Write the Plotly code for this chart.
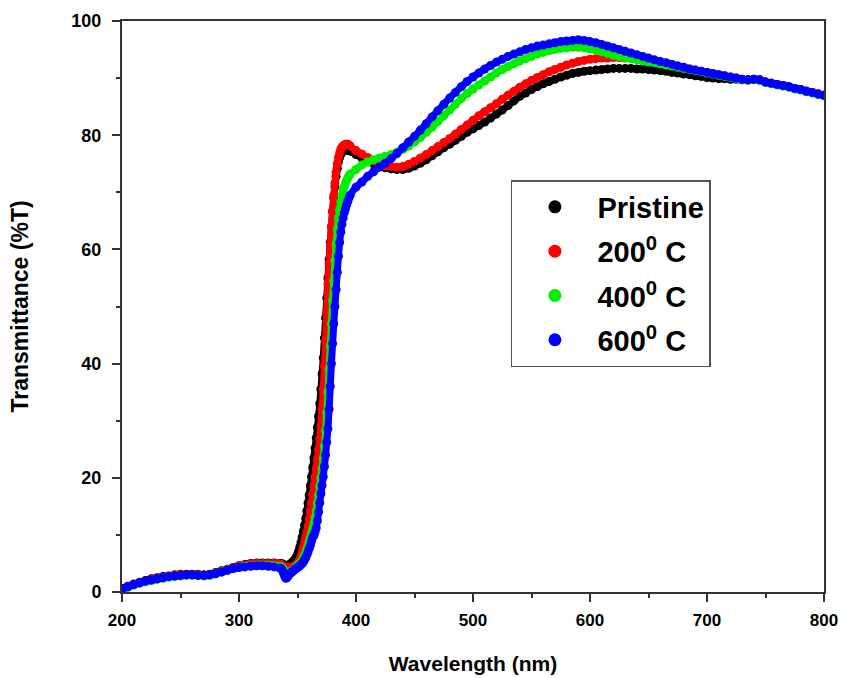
import plotly.graph_objects as go

# Wavelength grid (nm): coarse, fine through the absorption edge, coarse
wl_low = [200, 205, 210, 215, 220, 225, 230, 235, 240, 245, 250, 255, 260, 265,
          270, 275, 280, 285, 290, 295, 300, 305, 310, 315, 320, 325, 330, 335]
wl_edge = list(range(336, 396))
wl_high = list(range(400, 801, 5))
wavelength = wl_low + wl_edge + wl_high

pristine_low = [0.6, 1.0, 1.4, 1.7, 2.0, 2.3, 2.5, 2.7, 2.8, 3.0, 3.1, 3.1, 3.1, 3.1,
                3.0, 3.1, 3.4, 3.7, 4.0, 4.3, 4.6, 4.8, 5.0, 5.1, 5.1, 5.1, 5.1, 5.0]
pristine_edge = [5.0, 4.9, 4.8, 4.7, 4.6, 4.6, 4.7, 4.8, 4.9, 5.1,
                 5.3, 5.5, 5.8, 6.1, 6.6, 7.2, 7.9, 8.7, 9.6, 10.6,
                 11.7, 12.9, 14.2, 15.6, 17.0, 18.6, 20.2, 21.8, 23.5, 25.2,
                 27.0, 28.8, 30.8, 33.0, 35.5, 38.2, 41.0, 44.5, 48.0, 51.5,
                 55.0, 58.2, 61.2, 64.0, 66.6, 69.0, 71.0, 72.8, 74.2, 75.3,
                 76.1, 76.6, 77.0, 77.2, 77.3, 77.4, 77.4, 77.4, 77.3, 77.2]
pristine_high = [76.6, 76.0, 75.5, 75.0, 74.6, 74.3, 74.1, 74.0, 74.0, 74.2,
                 74.6, 75.1, 75.7, 76.4, 77.1, 77.8, 78.4, 79.1, 79.8, 80.5,
                 81.1, 81.7, 82.3, 83.0, 83.7, 84.4, 85.2, 86.0, 86.8, 87.4,
                 88.0, 88.5, 89.0, 89.4, 89.8, 90.2, 90.5, 90.8, 91.0, 91.2,
                 91.3, 91.4, 91.5, 91.6, 91.7, 91.7, 91.7, 91.7, 91.6, 91.6,
                 91.5, 91.4, 91.3, 91.2, 91.0, 90.9, 90.7, 90.6, 90.4, 90.3,
                 90.1, 90.0, 89.9, 89.9, 89.8, 89.8, 89.7, 89.7, 89.8, 89.7,
                 89.3, 89.1, 88.9, 88.7, 88.5, 88.2, 88.0, 87.7, 87.5, 87.2, 87.0]

c200_low = [0.5, 0.9, 1.3, 1.6, 1.9, 2.2, 2.4, 2.6, 2.7, 2.9, 3.0, 3.0, 3.0, 3.0,
            2.9, 3.0, 3.3, 3.6, 3.9, 4.2, 4.5, 4.7, 4.9, 5.0, 5.0, 5.0, 5.0, 4.9]
c200_edge = [4.8, 4.7, 4.5, 4.3, 4.2, 4.2, 4.2, 4.3, 4.3, 4.4,
             4.4, 4.5, 4.6, 4.8, 5.0, 5.3, 5.7, 6.3, 7.0, 7.8,
             8.7, 9.6, 10.5, 11.5, 12.8, 14.2, 15.6, 17.1, 18.6, 20.1,
             21.6, 23.3, 25.0, 26.8, 29.0, 32.0, 35.5, 39.5, 44.0, 49.0,
             54.0, 57.5, 60.8, 64.0, 66.8, 69.4, 71.6, 73.5, 75.0, 76.1,
             76.9, 77.5, 77.9, 78.1, 78.3, 78.4, 78.4, 78.4, 78.3, 78.1]
c200_high = [77.3, 76.7, 76.1, 75.5, 75.0, 74.7, 74.5, 74.4, 74.5, 74.9,
             75.4, 76.0, 76.6, 77.3, 78.0, 78.7, 79.4, 80.2, 81.0, 81.8,
             82.6, 83.4, 84.1, 84.8, 85.5, 86.3, 87.0, 87.7, 88.4, 89.0,
             89.6, 90.1, 90.6, 91.1, 91.5, 91.9, 92.3, 92.6, 92.9, 93.1,
             93.3, 93.4, 93.5, 93.5, 93.6, 93.6, 93.5, 93.5, 93.4, 93.3,
             93.1, 93.0, 92.8, 92.6, 92.4, 92.1, 91.9, 91.6, 91.4, 91.2,
             91.0, 90.8, 90.6, 90.4, 90.2, 90.0, 89.8, 89.7, 89.8, 89.7,
             89.3, 89.1, 88.9, 88.7, 88.5, 88.2, 88.0, 87.7, 87.5, 87.2, 87.0]

c400_low = [0.4, 0.8, 1.2, 1.5, 1.8, 2.0, 2.2, 2.4, 2.6, 2.7, 2.8, 2.9, 2.9, 2.9,
            2.8, 2.9, 3.2, 3.5, 3.8, 4.1, 4.3, 4.5, 4.6, 4.7, 4.7, 4.7, 4.6, 4.5]
c400_edge = [4.4, 4.2, 3.9, 3.5, 3.2, 3.2, 3.3, 3.4, 3.5, 3.7,
             3.8, 4.0, 4.2, 4.4, 4.6, 4.8, 5.0, 5.3, 5.6, 6.0,
             6.4, 6.9, 7.5, 8.1, 8.8, 9.5, 10.3, 11.1, 12.0, 13.0,
             14.2, 15.6, 17.0, 18.5, 20.0, 21.6, 23.4, 25.6, 28.2, 31.5,
             35.0, 39.0, 43.0, 47.0, 51.0, 54.5, 58.0, 61.0, 63.5, 65.5,
             67.0, 68.3, 69.4, 70.3, 71.0, 71.6, 72.1, 72.5, 72.9, 73.2]
c400_high = [74.0, 74.8, 75.3, 75.7, 76.0, 76.3, 76.6, 77.0, 77.5, 78.1,
             78.8, 79.6, 80.5, 81.4, 82.4, 83.4, 84.4, 85.4, 86.4, 87.3,
             88.1, 88.8, 89.5, 90.2, 90.9, 91.5, 92.0, 92.5, 93.0, 93.4,
             93.8, 94.2, 94.5, 94.8, 95.0, 95.2, 95.3, 95.4, 95.4, 95.3,
             95.1, 94.9, 94.6, 94.3, 94.0, 93.8, 93.6, 93.4, 93.2, 93.0,
             92.8, 92.7, 92.5, 92.3, 92.1, 91.9, 91.7, 91.5, 91.3, 91.1,
             90.9, 90.7, 90.5, 90.3, 90.1, 89.9, 89.7, 89.6, 89.7, 89.6,
             89.2, 89.0, 88.8, 88.6, 88.4, 88.1, 87.9, 87.6, 87.4, 87.1, 86.9]

c600_low = [0.5, 0.9, 1.3, 1.6, 1.9, 2.1, 2.3, 2.5, 2.7, 2.8, 2.9, 3.0, 3.0, 2.9,
            2.9, 3.0, 3.2, 3.5, 3.8, 4.1, 4.3, 4.4, 4.5, 4.6, 4.6, 4.5, 4.4, 4.2]
c600_edge = [4.1, 3.8, 3.3, 2.8, 2.4, 2.5, 2.8, 3.1, 3.3, 3.5,
             3.6, 3.8, 4.0, 4.1, 4.3, 4.4, 4.6, 4.8, 5.0, 5.3,
             5.6, 6.0, 6.5, 7.0, 7.6, 8.2, 8.9, 9.6, 9.9, 10.5,
             11.2, 12.5, 14.0, 15.6, 17.2, 18.7, 20.2, 22.0, 24.0, 26.2,
             28.6, 32.0, 36.0, 40.0, 43.5, 47.0, 50.0, 53.0, 56.0, 58.8,
             61.2, 63.0, 64.4, 65.5, 66.4, 67.1, 67.8, 68.4, 69.0, 69.5]
c600_high = [70.9, 71.8, 72.8, 73.6, 74.4, 75.1, 75.9, 76.8, 77.8, 78.8,
             79.8, 80.9, 82.0, 83.2, 84.3, 85.4, 86.5, 87.5, 88.5, 89.4,
             90.2, 90.9, 91.6, 92.2, 92.8, 93.3, 93.8, 94.2, 94.6, 95.0,
             95.3, 95.6, 95.8, 96.0, 96.2, 96.4, 96.5, 96.6, 96.7, 96.6,
             96.4, 96.2, 95.9, 95.6, 95.3, 95.0, 94.7, 94.4, 94.1, 93.8,
             93.5, 93.2, 92.9, 92.7, 92.4, 92.1, 91.9, 91.6, 91.4, 91.2,
             91.0, 90.8, 90.6, 90.4, 90.2, 90.0, 89.8, 89.7, 89.8, 89.7,
             89.3, 89.1, 88.9, 88.7, 88.5, 88.2, 88.0, 87.7, 87.5, 87.2, 87.0]

series_names = ["Pristine", "200<sup>0</sup> C", "400<sup>0</sup> C", "600<sup>0</sup> C"]
series_values = [pristine_low + pristine_edge + pristine_high,
                 c200_low + c200_edge + c200_high,
                 c400_low + c400_edge + c400_high,
                 c600_low + c600_edge + c600_high]
series_colors = ["#000000", "#ff0000", "#00ee00", "#0000ff"]

x_ticks = [200, 300, 400, 500, 600, 700, 800]
y_ticks = [0, 20, 40, 60, 80, 100]

fig = go.Figure()
for name, vals, col in zip(series_names, series_values, series_colors):
    fig.add_trace(go.Scatter(x=wavelength, y=vals, mode="lines+markers",
                             line=dict(width=7, color=col, shape="spline", smoothing=0.6),
                             marker=dict(size=9, color=col, line=dict(width=0)),
                             showlegend=False, hoverinfo="skip"))
for i, (name, col) in enumerate(zip(series_names, series_colors)):
    fig.add_trace(go.Scatter(x=[None], y=[None], mode="markers", name=name,
                             marker=dict(size=13, color=col), legendgroup=str(i)))

axis_common = dict(showgrid=False, zeroline=False, showline=True, linewidth=2,
                   linecolor="#333333", mirror=True, ticks="outside", ticklen=8,
                   tickwidth=2, tickcolor="#333333", automargin=False)

fig.update_layout(
    width=844, height=678,
    margin=dict(l=122, r=20, t=21, b=86),
    paper_bgcolor="white", plot_bgcolor="white",
    font=dict(family="Liberation Sans, Arial, sans-serif", color="black"),
    xaxis=dict(range=[200, 800], tickvals=x_ticks,
               tickfont=dict(size=17, weight="bold",
                             family="Liberation Sans Narrow, Liberation Sans, Arial"),
               minor=dict(ticks="outside", ticklen=4, tickwidth=2, dtick=50,
                          tickcolor="#333333"),
               title=dict(text="Wavelength (nm)", standoff=27,
                          font=dict(size=21, weight="bold",
                                    family="Liberation Sans Narrow, Liberation Sans, Arial")),
               ticklabelstandoff=4,
               **axis_common),
    yaxis=dict(range=[0, 100], tickvals=y_ticks,
               tickfont=dict(size=18, weight="bold"),
               minor=dict(ticks="outside", ticklen=4, tickwidth=2, dtick=10,
                          tickcolor="#333333"),
               title=dict(text="Transmittance (%T)", standoff=36,
                          font=dict(size=23, weight="bold")),
               ticklabelstandoff=7,
               **axis_common),
    legend=dict(x=0.554, y=0.7215, xanchor="left", yanchor="top",
                bgcolor="white", bordercolor="#555555", borderwidth=1.5,
                font=dict(size=29, weight="bold"), tracegroupgap=3.6,
                itemwidth=75),
)

fig.write_html("out.html",
               config={"displayModeBar": False},
               post_script="document.body.style.margin='0';"
                           "document.body.style.overflow='hidden';")
